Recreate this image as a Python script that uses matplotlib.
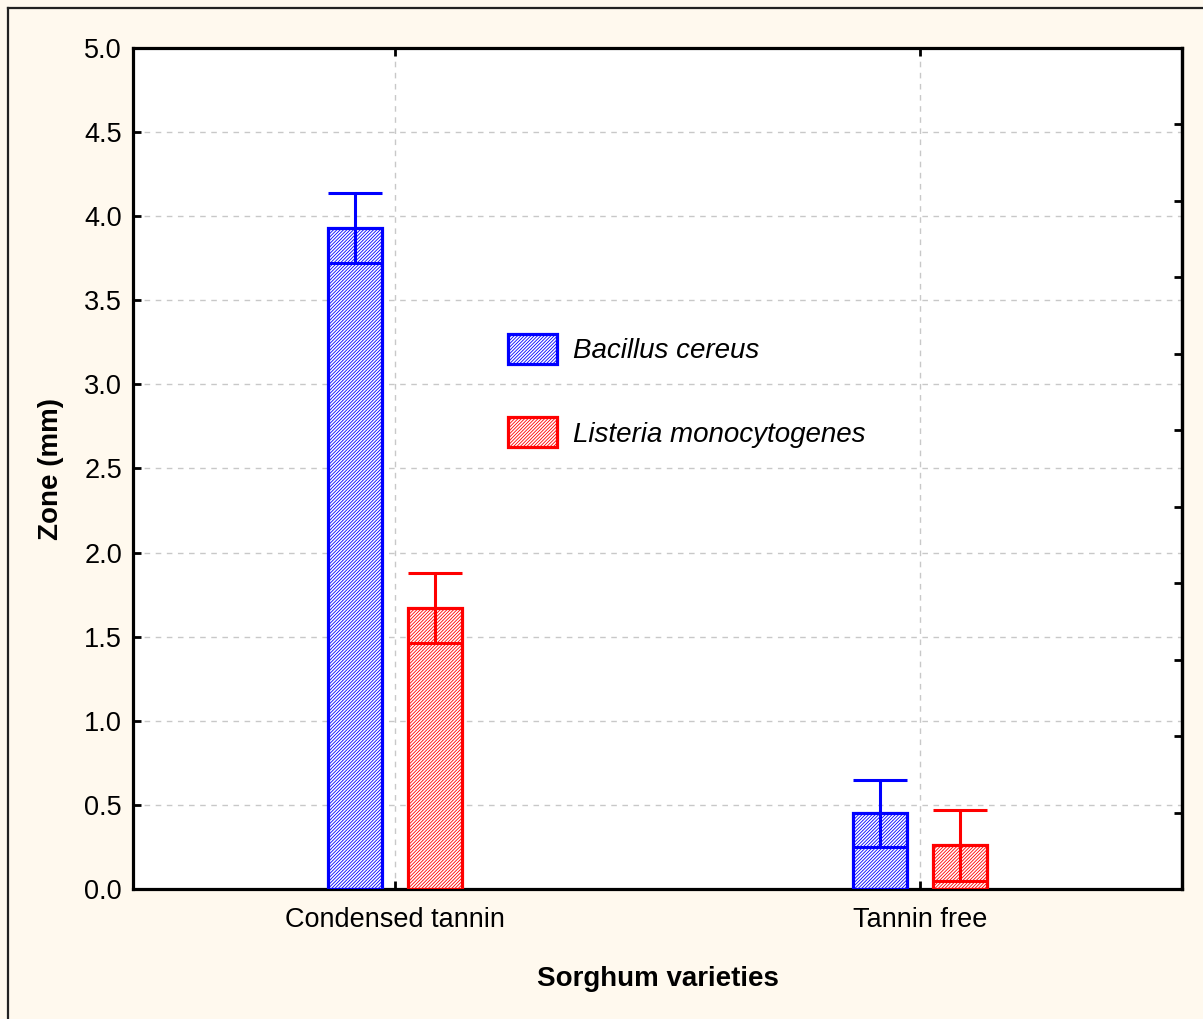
import matplotlib
matplotlib.use("Agg")
import matplotlib.pyplot as plt
import numpy as np
from matplotlib.patches import Patch
from matplotlib.lines import Line2D

plt.rcParams['font.family'] = ['Liberation Sans', 'DejaVu Sans']
plt.rcParams['hatch.linewidth'] = 0.6

categories = ["Condensed tannin", "Tannin free"]
series_names = ["Bacillus cereus", "Listeria monocytogenes"]
bacillus = [3.93, 0.45]
listeria = [1.67, 0.26]
bacillus_err = [0.21, 0.20]
listeria_err = [0.21, 0.21]
colors = ["#0000ff", "#ff0000"]

fig = plt.figure(figsize=(12.03, 10.19), dpi=100)
fig.patch.set_facecolor('#FFF9EE')
# frame lines (top and left)
fig.add_artist(Line2D([8/1203, 1.0], [1 - 8/1019, 1 - 8/1019], transform=fig.transFigure, color='#222222', lw=1.6))
fig.add_artist(Line2D([8/1203, 8/1203], [0, 1 - 8/1019], transform=fig.transFigure, color='#222222', lw=1.6))

ax = fig.add_axes([133/1203, (1019-889)/1019, (1182-133)/1203, (889-48)/1019])
ax.set_facecolor('white')

x = np.arange(len(categories))
width = 0.103
offset = 0.076
hatch = '//////////'
for vals, errs, col, sgn in [(bacillus, bacillus_err, colors[0], -1), (listeria, listeria_err, colors[1], 1)]:
    xpos = x + sgn * offset
    ax.bar(xpos, vals, width=width, facecolor='white', edgecolor=col, hatch=hatch, linewidth=2.3, zorder=3)
    ax.errorbar(xpos, vals, yerr=errs, fmt='none', ecolor=col, elinewidth=2.2, capsize=19.3, capthick=2.2, zorder=4)

ax.set_xlim(-0.5, 1.5)
ax.set_ylim(0, 5)
ax.set_yticks(np.arange(0, 5.01, 0.5))
ax.set_yticklabels([f"{v:.1f}" for v in np.arange(0, 5.01, 0.5)])
ax.set_xticks(x)
ax.set_xticklabels(categories)
ax.grid(True, color='#c8c8c8', linestyle=(0, (4, 4)), linewidth=1.0, zorder=0)
ax.set_axisbelow(True)
for s in ax.spines.values():
    s.set_linewidth(2.3)
ax.tick_params(axis='both', direction='in', length=6, width=2, labelsize=19.5, top=True, right=False)
ax.tick_params(axis='y', pad=8)
ax.tick_params(axis='x', pad=13)

ax2 = ax.twinx()
ax2.set_ylim(0, 5)
ax2.set_yticks(np.linspace(0, 5, 12)[1:-1])
ax2.tick_params(axis='y', direction='in', length=6, width=2, labelright=False)
ax2.spines['right'].set_linewidth(2.3)

ax.set_xlabel("Sorghum varieties", fontsize=20, fontweight='bold')
ax.xaxis.set_label_coords(0.5, -0.092)
ax.set_ylabel("Zone (mm)", fontsize=20, fontweight='bold')
ax.yaxis.set_label_coords(-0.066, 0.5)

handles = [Patch(facecolor='white', edgecolor=c, hatch=hatch, linewidth=2.3) for c in colors]
leg = ax.legend(handles, series_names, loc='upper left', bbox_to_anchor=(0.3575, 0.660), frameon=False,
                prop={'size': 20, 'style': 'italic'}, handlelength=1.76, handleheight=1.3,
                labelspacing=1.9, handletextpad=0.58, borderpad=0, borderaxespad=0)

fig.savefig("out.png", dpi=100, facecolor=fig.get_facecolor())
